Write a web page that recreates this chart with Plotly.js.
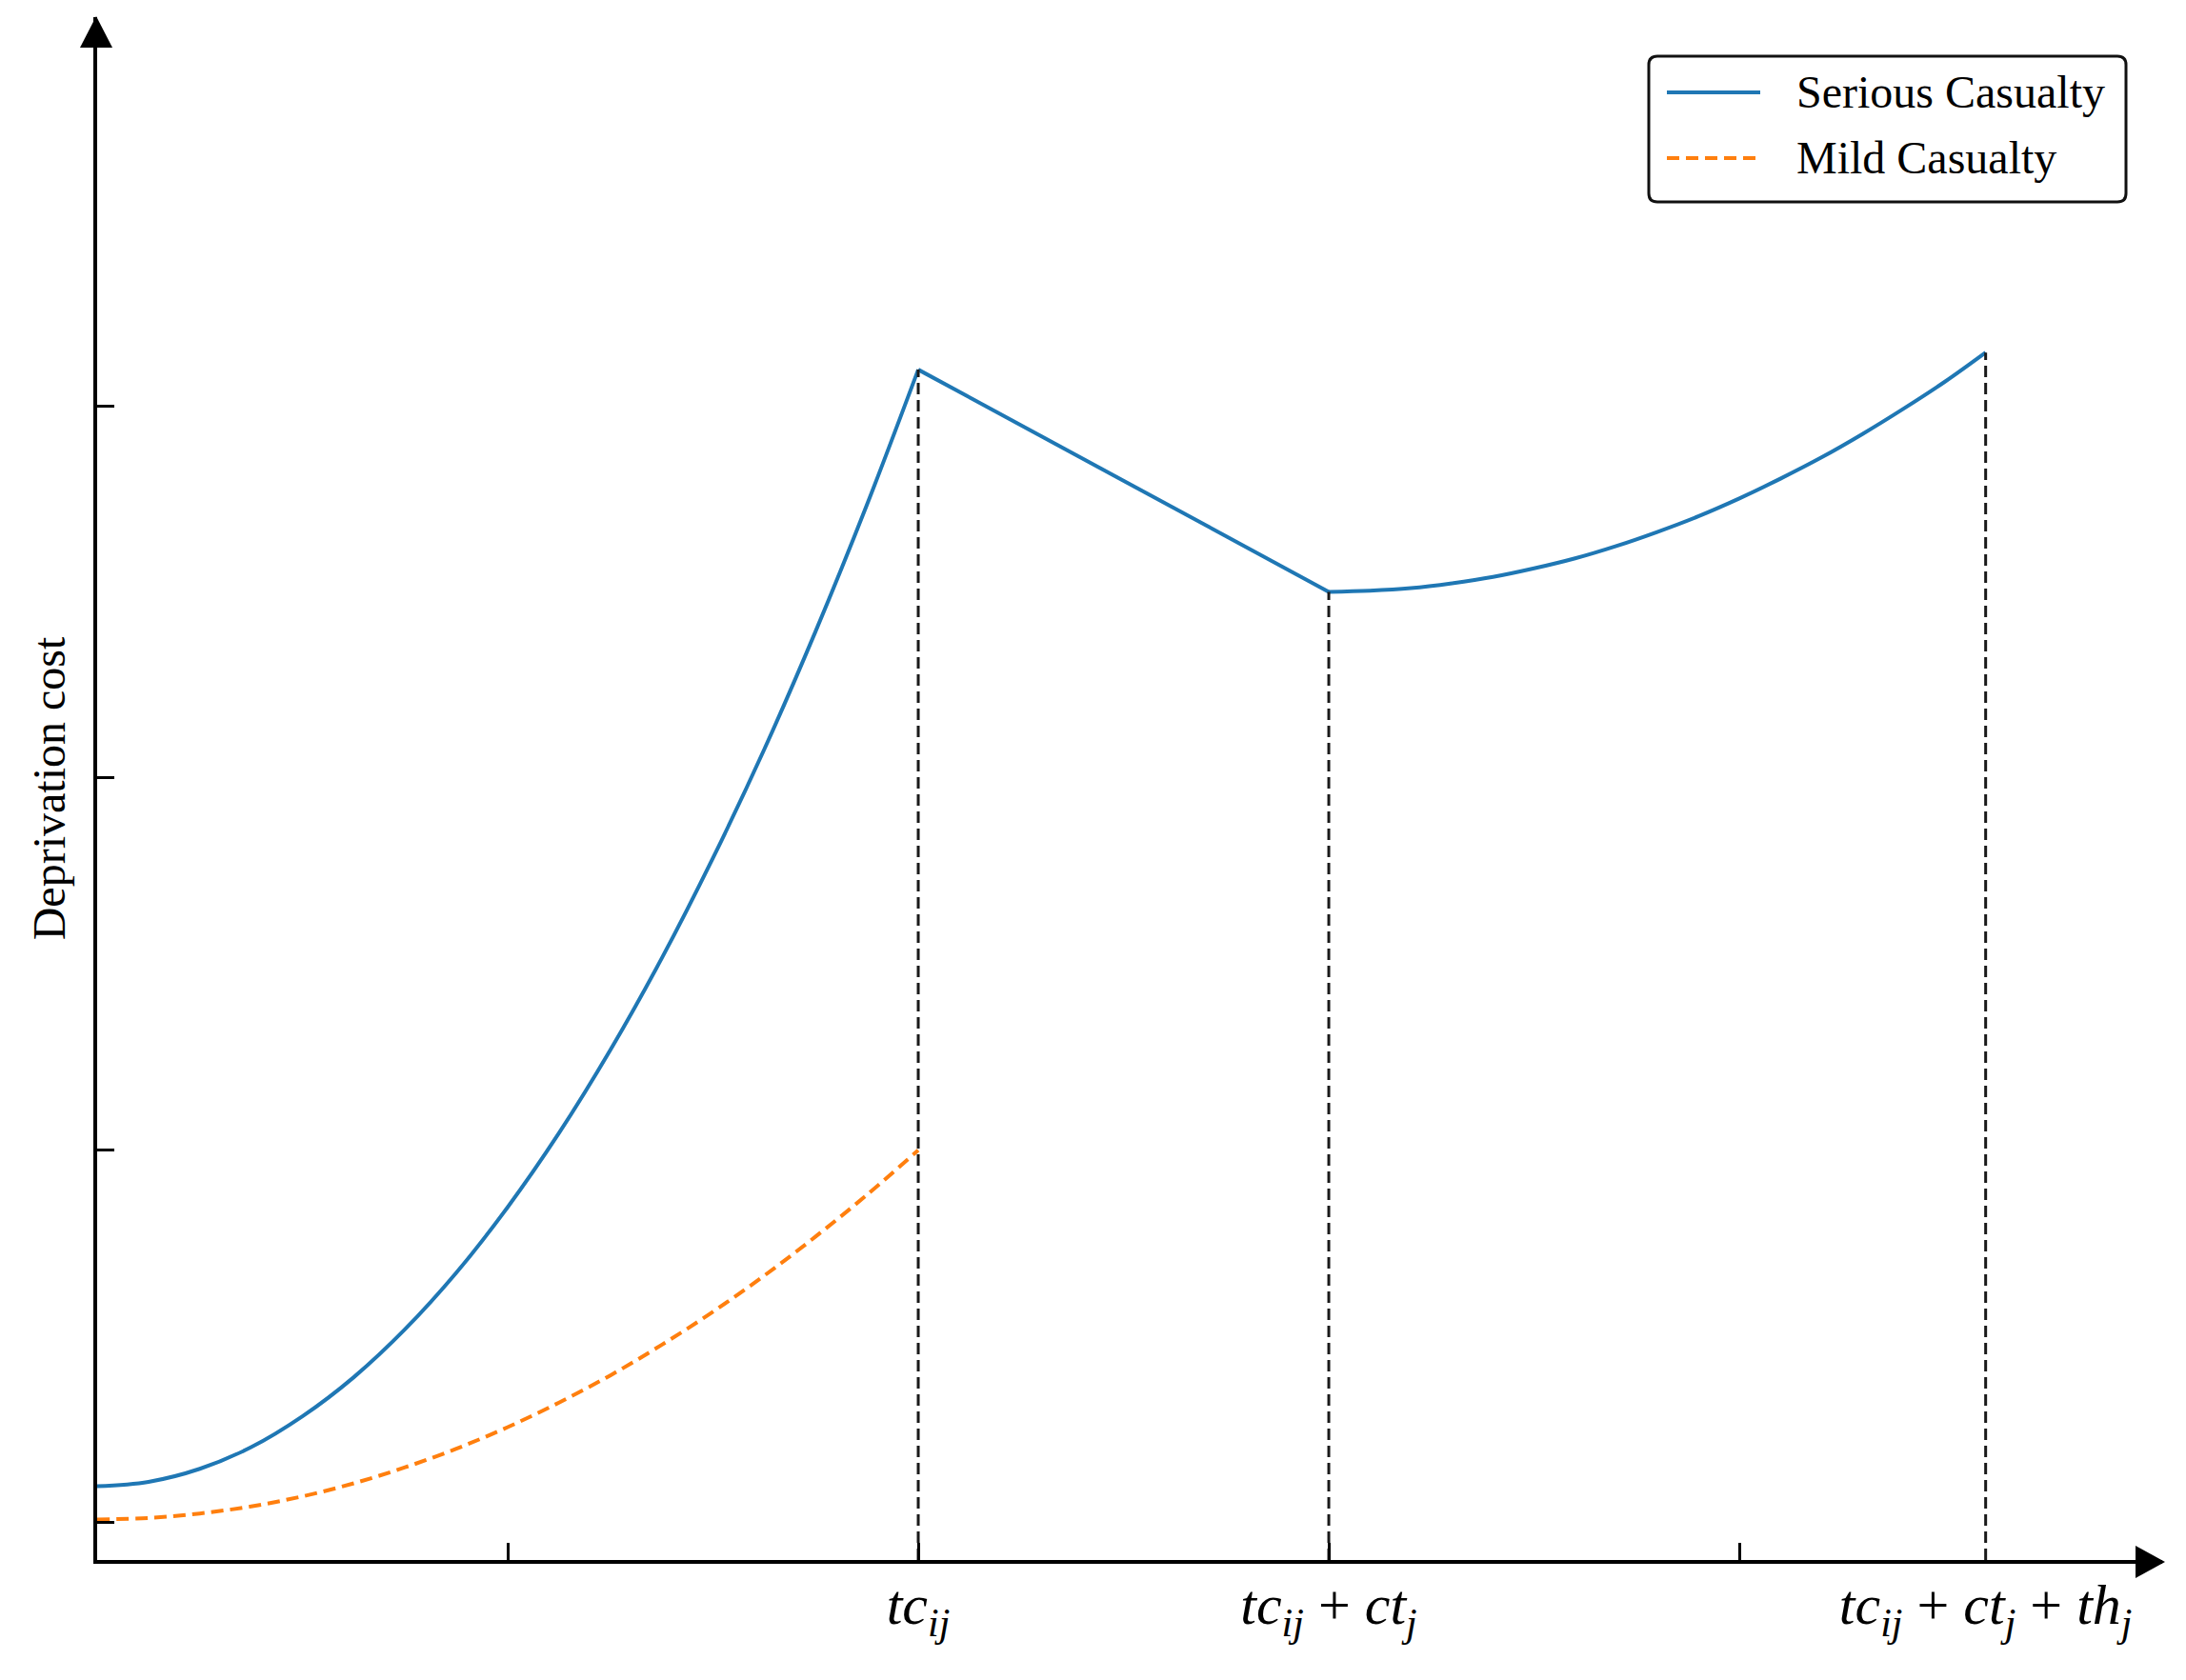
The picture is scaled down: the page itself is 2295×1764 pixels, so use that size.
<!DOCTYPE html>
<html>
<head>
<meta charset="utf-8">
<script src="https://cdn.plot.ly/plotly-3.0.1.min.js"></script>
<style>html,body{margin:0;padding:0;background:#fff}</style>
</head>
<body>
<div id="chart" style="width:2295px;height:1764px"></div>
<script>
// time in tick units, cost in tick units (axes carry no numbers in the figure)
let seriousX = [0, 0.125, 0.25, 0.375, 0.5, 0.625, 0.75, 0.875, 1, 1.125, 1.25, 1.375, 1.5, 1.625, 1.75, 1.875, 2,
  3, 3.1, 3.2, 3.3, 3.4, 3.5, 3.6, 3.7, 3.8, 3.9, 4, 4.1, 4.2, 4.3, 4.4, 4.5, 4.6];
let seriousY = [0.097, 0.109, 0.144, 0.202, 0.285, 0.390, 0.519, 0.671, 0.847, 1.046, 1.269, 1.515, 1.785, 2.077, 2.394, 2.734, 3.097,
  2.500, 2.503, 2.510, 2.523, 2.540, 2.563, 2.590, 2.623, 2.661, 2.703, 2.751, 2.804, 2.861, 2.924, 2.992, 3.064, 3.143];

let mildX = [0, 0.125, 0.25, 0.375, 0.5, 0.625, 0.75, 0.875, 1, 1.125, 1.25, 1.375, 1.5, 1.625, 1.75, 1.875, 2];
let mildY = [0.008, 0.012, 0.024, 0.043, 0.070, 0.105, 0.148, 0.198, 0.256, 0.322, 0.395, 0.477, 0.566, 0.663, 0.768, 0.880, 1.000];

// moments marked with dashed drop lines
let markX = [2, 3, 4.6];
let markY = [3.097, 2.500, 3.143];
let markLabels = [
  '<i>tc</i><sub><i>ij</i></sub>',
  '<i>tc</i><sub><i>ij</i></sub> + <i>ct</i><sub><i>j</i></sub>',
  '<i>tc</i><sub><i>ij</i></sub> + <i>ct</i><sub><i>j</i></sub> + <i>th</i><sub><i>j</i></sub>'
];

let xTicks = [1, 2, 3, 4];
let yTicks = [0, 1, 2, 3];

let xRange = [0, 5.03];
let yRange = [-0.101, 4.044];

// drop lines from the x axis up to the curve
let dropX = [], dropY = [];
markX.forEach(function (x, i) {
  dropX.push(x, x, null);
  dropY.push(yRange[0], markY[i], null);
});

// the serious curve has two kinks (at tc and tc+ct): smooth pieces + a straight piece
let kinkA = seriousX.indexOf(markX[0]);
let kinkB = seriousX.indexOf(markX[1]);

let serif = 'Liberation Serif, Times New Roman, serif';
let blue = '#1f77b4';
let orange = '#ff7f0e';
let blueLine = {color: blue, width: 4};

let data = [
  {x: dropX, y: dropY, xaxis: 'x2', mode: 'lines', line: {color: '#1a1a1a', width: 3, dash: '12px,6px'}, showlegend: false, hoverinfo: 'skip'},
  {x: mildX, y: mildY, mode: 'lines', name: 'Mild Casualty', line: {color: orange, width: 4, dash: '13px,7px', shape: 'spline'}, showlegend: false},
  {x: seriousX.slice(0, kinkA + 1), y: seriousY.slice(0, kinkA + 1), mode: 'lines', name: 'Serious Casualty',
    line: Object.assign({shape: 'spline'}, blueLine), showlegend: false},
  {x: seriousX.slice(kinkA, kinkB + 1), y: seriousY.slice(kinkA, kinkB + 1), mode: 'lines', name: 'Serious Casualty',
    line: blueLine, showlegend: false},
  {x: seriousX.slice(kinkB), y: seriousY.slice(kinkB), mode: 'lines', name: 'Serious Casualty',
    line: Object.assign({shape: 'spline'}, blueLine), showlegend: false}
];

// page pixel -> paper coords
let W = 2295, H = 1764;
let m = {l: 102, r: 25, t: 18, b: 126};
let pw = W - m.l - m.r, ph = H - m.t - m.b;
function px(x) { return (x - m.l) / pw; }
function py(y) { return (H - m.b - y) / ph; }
function pt(x, y) { return px(x) + ',' + py(y); }

// rounded legend frame
let bx1 = 1731, bx2 = 2232, by1 = 59, by2 = 212, r = 9;
let framePath = 'M ' + pt(bx1 + r, by1) + ' L ' + pt(bx2 - r, by1) + ' Q ' + pt(bx2, by1) + ' ' + pt(bx2, by1 + r) +
  ' L ' + pt(bx2, by2 - r) + ' Q ' + pt(bx2, by2) + ' ' + pt(bx2 - r, by2) +
  ' L ' + pt(bx1 + r, by2) + ' Q ' + pt(bx1, by2) + ' ' + pt(bx1, by2 - r) +
  ' L ' + pt(bx1, by1 + r) + ' Q ' + pt(bx1, by1) + ' ' + pt(bx1 + r, by1) + ' Z';

let shapes = [
  // axis arrow heads
  {type: 'path', xref: 'paper', yref: 'paper', path: 'M ' + pt(2242, 1623) + ' L ' + pt(2273, 1640) + ' L ' + pt(2242, 1657) + ' Z',
    fillcolor: '#000', line: {width: 0}},
  {type: 'path', xref: 'paper', yref: 'paper', path: 'M ' + pt(84, 50) + ' L ' + pt(101, 17) + ' L ' + pt(118, 50) + ' Z',
    fillcolor: '#000', line: {width: 0}},
  // legend
  {type: 'path', xref: 'paper', yref: 'paper', path: framePath, fillcolor: '#fff', line: {color: '#111', width: 3}},
  {type: 'line', xref: 'paper', yref: 'paper', x0: px(1750), x1: px(1848), y0: py(97), y1: py(97), line: {color: blue, width: 4}},
  {type: 'line', xref: 'paper', yref: 'paper', x0: px(1750), x1: px(1848), y0: py(166), y1: py(166), line: {color: orange, width: 4, dash: '13px,7px'}}
];

let annotations = [
  {xref: 'paper', yref: 'paper', x: px(1884), y: py(97), xanchor: 'left', yanchor: 'middle', showarrow: false,
    text: 'Serious Casualty', font: {family: serif, size: 48, color: '#000'}},
  {xref: 'paper', yref: 'paper', x: px(1884), y: py(165), xanchor: 'left', yanchor: 'middle', showarrow: false,
    text: 'Mild Casualty', font: {family: serif, size: 48, color: '#000'}}
];

let layout = {
  width: W, height: H,
  margin: m,
  paper_bgcolor: '#fff', plot_bgcolor: '#fff',
  showlegend: false,
  font: {family: serif, color: '#000'},
  xaxis: {
    range: xRange, showgrid: false, zeroline: false,
    showline: true, linecolor: '#000', linewidth: 4,
    tickvals: xTicks, ticks: 'inside', ticklen: 18, tickwidth: 3, tickcolor: '#000',
    showticklabels: false
  },
  xaxis2: {
    range: xRange, overlaying: 'x', matches: 'x', showgrid: false, zeroline: false, showline: false,
    tickvals: markX, ticktext: markLabels, ticks: '', side: 'bottom',
    tickfont: {family: serif, size: 60, color: '#000'}, ticklabelstandoff: 6
  },
  yaxis: {
    range: yRange, showgrid: false, zeroline: false,
    showline: true, linecolor: '#000', linewidth: 4,
    tickvals: yTicks, ticks: 'inside', ticklen: 18, tickwidth: 3, tickcolor: '#000',
    showticklabels: false,
    title: {text: 'Deprivation cost', font: {family: serif, size: 48, color: '#000'}, standoff: 15}
  },
  shapes: shapes,
  annotations: annotations
};

Plotly.newPlot('chart', data, layout, {displayModeBar: false, staticPlot: true});
</script>
</body>
</html>
